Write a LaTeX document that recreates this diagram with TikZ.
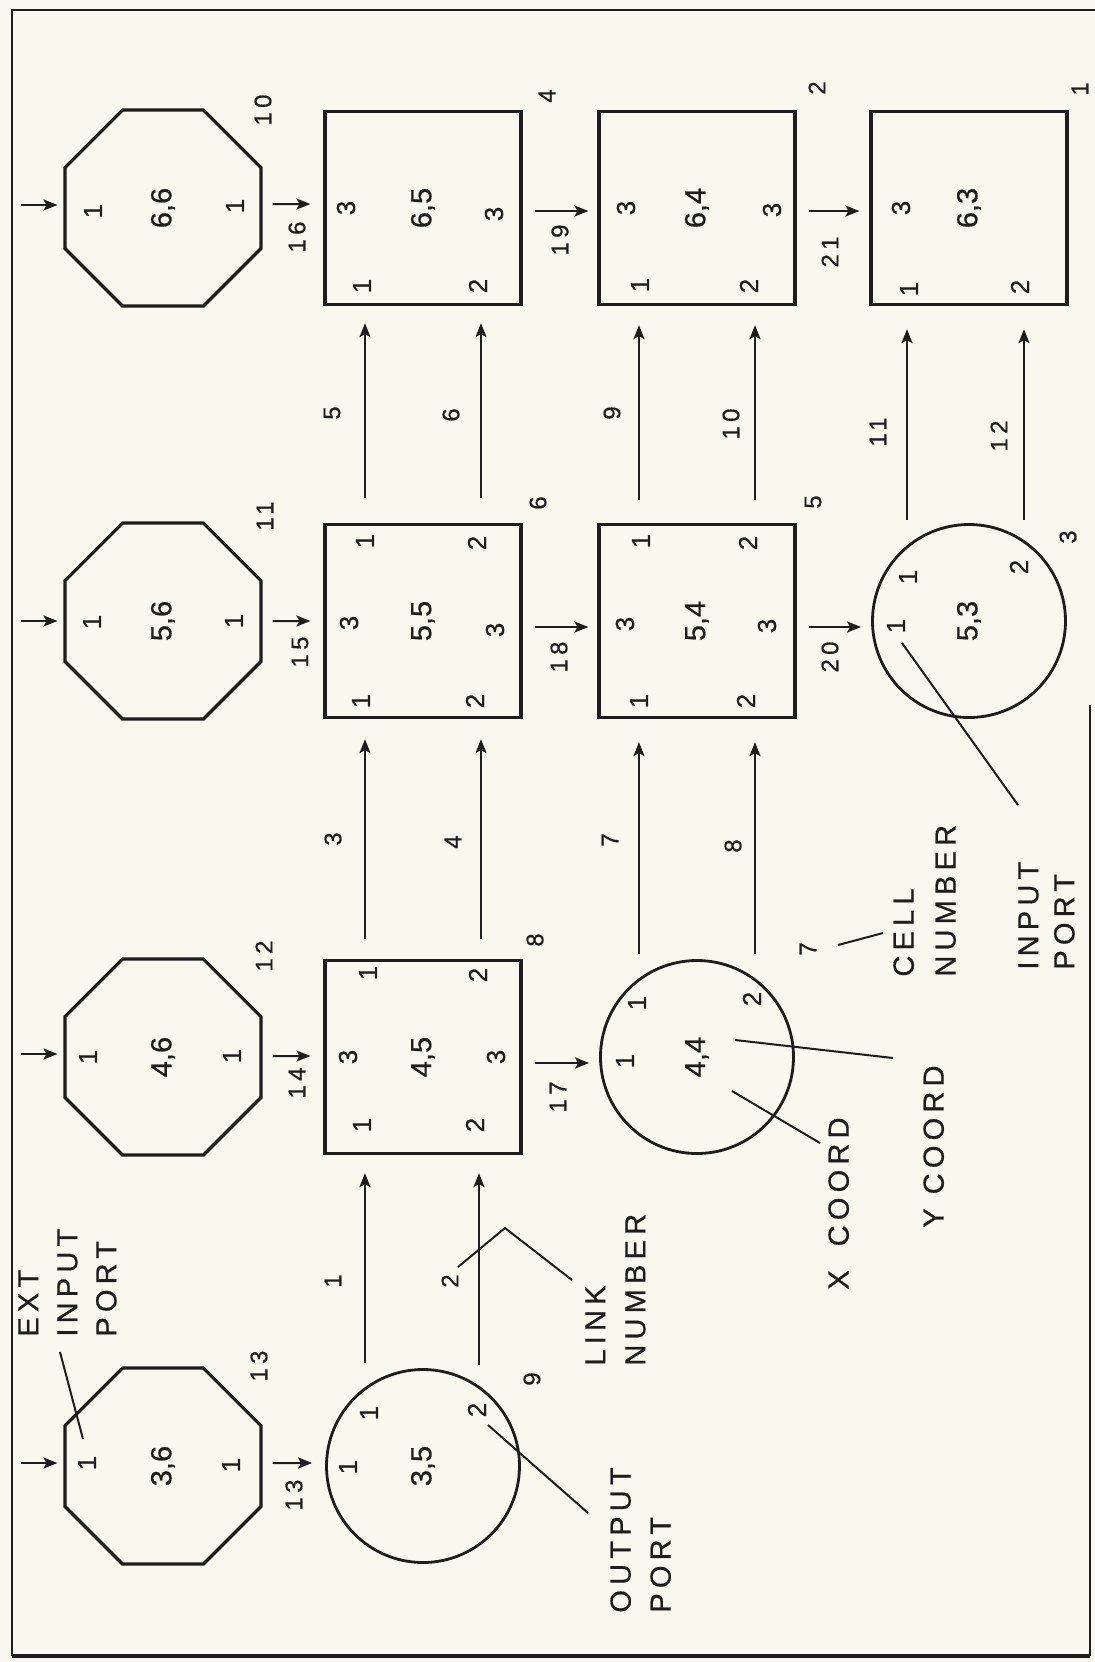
\documentclass[tikz,border=0pt]{standalone}
\usepackage{fontspec}
\setmainfont{Liberation Sans}[FakeBold=0.6]
\newfontfamily\lettering{Liberation Sans}[LetterSpace=18,FakeBold=0.6]
\usetikzlibrary{shapes.geometric,arrows.meta,calc}
\definecolor{paper}{RGB}{248,248,238}
\definecolor{ink}{RGB}{30,28,28}
\begin{document}
\begin{tikzpicture}[x=0.5pt,y=-0.5pt,
  sq/.style={draw=ink,line width=1.6pt,rectangle,minimum width=98pt,minimum height=96.5pt,inner sep=0pt,text=ink,font=\fontsize{14.5}{17}\selectfont},
  ci/.style={draw=ink,line width=1.4pt,circle,minimum size=96.5pt,inner sep=0pt,text=ink,font=\fontsize{14.5}{17}\selectfont},
  oc/.style={draw=ink,line width=1.6pt,regular polygon,regular polygon sides=8,minimum size=106pt,inner sep=0pt,text=ink,font=\fontsize{14.5}{17}\selectfont},
  port/.style={rotate=90,inner sep=0pt,text=ink,font=\fontsize{13}{15}\selectfont},
  num/.style={rotate=90,inner sep=0pt,text=ink,font=\lettering\fontsize{12}{14}\selectfont},
  note/.style={rotate=90,inner sep=0pt,text=ink,align=left,anchor=north west,font=\lettering\fontsize{14.5}{19.5}\selectfont},
  arr/.style={draw=ink,line width=1pt,-{Stealth[length=7pt,width=5.5pt,inset=1.5pt]}},
  lead/.style={draw=ink,line width=1pt},
  frame/.style={draw=ink,line width=1.2pt},
]
\fill[paper] (0,0) rectangle (1095,1662);
\useasboundingbox (0,0) rectangle (1095,1662);
\coordinate (fTL) at (12,10);
\coordinate (fTR) at (1095,10);
\coordinate (fBL) at (12,1656);
\coordinate (fBR) at (1090,1656);
\coordinate (fRM) at (1090,705);
\draw[frame] (fTR) -- (fTL) -- (fBL);
\draw[frame,line width=1.6pt] (fBL) -- (fBR);
\draw[frame,line width=1pt] (fRM) -- (fBR);

% cells
\node[oc] (o66) at (163,208) {\rotatebox{90}{6,6}};
\node[sq] (s65) at (423,208) {\rotatebox{90}{6,5}};
\node[sq] (s64) at (697,208) {\rotatebox{90}{6,4}};
\node[sq] (s63) at (969,208) {\rotatebox{90}{6,3}};
\node[oc] (o56) at (163,621) {\rotatebox{90}{5,6}};
\node[sq] (s55) at (423,621) {\rotatebox{90}{5,5}};
\node[sq] (s54) at (697,621) {\rotatebox{90}{5,4}};
\node[ci] (c53) at (969,621) {\rotatebox{90}{5,3}};
\node[oc] (o46) at (163,1057) {\rotatebox{90}{4,6}};
\node[sq] (s45) at (423,1057) {\rotatebox{90}{4,5}};
\node[ci] (c44) at (697,1057) {\rotatebox{90}{4,4}};
\node[oc] (o36) at (163,1466) {\rotatebox{90}{3,6}};
\node[ci] (c35) at (423,1466) {\rotatebox{90}{3,5}};

% port labels: octagons
\node[port] (o66a) at ($(o66)+(-70,3)$) {1};
\node[port] (o66b) at ($(o66)+(72,-2)$) {1};
\node[port] (o56a) at ($(o56)+(-71,1)$) {1};
\node[port] (o56b) at ($(o56)+(71,0)$) {1};
\node[port] (o46a) at ($(o46)+(-75,0)$) {1};
\node[port] (o46b) at ($(o46)+(69,-1)$) {1};
\node[port] (o36a) at ($(o36)+(-76,-3)$) {1};
\node[port] (o36b) at ($(o36)+(68,-1)$) {1};
% port labels: squares
\node[port] (s65l) at ($(s65)+(-77,0)$) {3};
\node[port] (s65r) at ($(s65)+(71,6)$) {3};
\node[port] (s65c) at ($(s65)+(-61,78)$) {1};
\node[port] (s65d) at ($(s65)+(55,78)$) {2};
\node[port] (s64l) at ($(s64)+(-71,0)$) {3};
\node[port] (s64r) at ($(s64)+(75,2)$) {3};
\node[port] (s64c) at ($(s64)+(-57,77)$) {1};
\node[port] (s64d) at ($(s64)+(52,78)$) {2};
\node[port] (s63l) at ($(s63)+(-68,0)$) {3};
\node[port] (s63c) at ($(s63)+(-60,81)$) {1};
\node[port] (s63d) at ($(s63)+(51,79)$) {2};
\node[port] (s55l) at ($(s55)+(-74,2)$) {3};
\node[port] (s55r) at ($(s55)+(72,9)$) {3};
\node[port] (s55a) at ($(s55)+(-58,-80)$) {1};
\node[port] (s55b) at ($(s55)+(54,-78)$) {2};
\node[port] (s55c) at ($(s55)+(-62,80)$) {1};
\node[port] (s55d) at ($(s55)+(52,80)$) {2};
\node[port] (s54l) at ($(s54)+(-72,3)$) {3};
\node[port] (s54r) at ($(s54)+(70,5)$) {3};
\node[port] (s54a) at ($(s54)+(-56,-80)$) {1};
\node[port] (s54b) at ($(s54)+(51,-78)$) {2};
\node[port] (s54c) at ($(s54)+(-58,80)$) {1};
\node[port] (s54d) at ($(s54)+(49,80)$) {2};
\node[port] (s45l) at ($(s45)+(-75,0)$) {3};
\node[port] (s45r) at ($(s45)+(73,0)$) {3};
\node[port] (s45a) at ($(s45)+(-55,-84)$) {1};
\node[port] (s45b) at ($(s45)+(55,-82)$) {2};
\node[port] (s45c) at ($(s45)+(-61,68)$) {1};
\node[port] (s45d) at ($(s45)+(52,68)$) {2};
% port labels: circles
\node[port] (c53l) at ($(c53)+(-73,5)$) {1};
\node[port] (c53a) at ($(c53)+(-61,-44)$) {1};
\node[port] (c53b) at ($(c53)+(50,-54)$) {2};
\node[port] (c44l) at ($(c44)+(-72,4)$) {1};
\node[port] (c44a) at ($(c44)+(-60,-54)$) {1};
\node[port] (c44b) at ($(c44)+(55,-58)$) {2};
\node[port] (c35l) at ($(c35)+(-75,1)$) {1};
\node[port] (c35a) at ($(c35)+(-54,-53)$) {1};
\node[port] (c35b) at ($(c35)+(54,-56)$) {2};

% cell numbers
\node[num] (n10) at (263,110) {10};
\node[num] (n11) at (265,516) {11};
\node[num] (n12) at (264,956) {12};
\node[num] (n13) at (259,1366) {13};
\node[num] (n4) at (547,96) {4};
\node[num] (n6) at (538,503) {6};
\node[num] (n8) at (535,940) {8};
\node[num] (n2) at (817,88) {2};
\node[num] (n5) at (813,502) {5};
\node[num] (n1) at (1080,89) {1};
\node[num] (n3) at (1068,537) {3};
\node[num] (n7) at (808,949) {7};
\node[num] (n9) at (532,1379) {9};

% external input arrows
\draw[arr] ($(o66.west)+(-42,-3)$) -- ($(o66.west)+(-6,-3)$);
\draw[arr] ($(o56.west)+(-42,0)$) -- ($(o56.west)+(-6,0)$);
\draw[arr] ($(o46.west)+(-42,-3)$) -- ($(o46.west)+(-6,-3)$);
\draw[arr] ($(o36.west)+(-42,-3)$) -- ($(o36.west)+(-6,-3)$);
% horizontal links
\draw[arr] ($(o66.east)+(10,-4)$) -- ($(s65.west)+(-13,-4)$);
\draw[arr] ($(s65.east)+(12,3)$) -- ($(s64.west)+(-9,3)$);
\draw[arr] ($(s64.east)+(12,3)$) -- ($(s63.west)+(-10,3)$);
\draw[arr] ($(o56.east)+(10,0)$) -- ($(s55.west)+(-13,0)$);
\draw[arr] ($(s55.east)+(12,6)$) -- ($(s54.west)+(-9,6)$);
\draw[arr] ($(s54.east)+(12,6)$) -- ($(c53.west)+(-10,6)$);
\draw[arr] ($(o46.east)+(10,-1)$) -- ($(s45.west)+(-13,-1)$);
\draw[arr] ($(s45.east)+(12,6)$) -- ($(c44.west)+(-10,6)$);
\draw[arr] ($(o36.east)+(10,-3)$) -- ($(c35.west)+(-13,-3)$);
% vertical links
\draw[arr] ($(s55.north)+(-58,-25)$) -- ($(s65.south)+(-58,17)$);
\draw[arr] ($(s55.north)+(58,-25)$) -- ($(s65.south)+(58,17)$);
\draw[arr] ($(s45.north)+(-58,-20)$) -- ($(s55.south)+(-58,20)$);
\draw[arr] ($(s45.north)+(58,-20)$) -- ($(s55.south)+(58,20)$);
\draw[arr] ($(c35.north)+(-58,-5)$) -- ($(s45.south)+(-58,18)$);
\draw[arr] ($(c35.north)+(56,-3)$) -- ($(s45.south)+(56,18)$);
\draw[arr] ($(s54.north)+(-58,-23)$) -- ($(s64.south)+(-58,19)$);
\draw[arr] ($(s54.north)+(58,-23)$) -- ($(s64.south)+(58,19)$);
\draw[arr] ($(c44.north)+(-58,-5)$) -- ($(s54.south)+(-58,23)$);
\draw[arr] ($(c44.north)+(58,-5)$) -- ($(s54.south)+(58,23)$);
\draw[arr] ($(c53.north)+(-62,-3)$) -- ($(s63.south)+(-62,23)$);
\draw[arr] ($(c53.north)+(55,-3)$) -- ($(s63.south)+(55,23)$);

% link numbers
\node[num] (l16) at (297,237) {16};
\node[num] (l15) at (300,652) {15};
\node[num] (l14) at (297,1083) {14};
\node[num] (l13) at (294,1495) {13};
\node[num] (l19) at (560,240) {19};
\node[num] (l18) at (559,657) {18};
\node[num] (l17) at (558,1097) {17};
\node[num] (l21) at (830,252) {21};
\node[num] (l20) at (830,657) {20};
\node[num] (l5) at (332,413) {5};
\node[num] (l6) at (451,415) {6};
\node[num] (l3) at (333,839) {3};
\node[num] (l4) at (453,842) {4};
\node[num] (l1) at (333,1281) {1};
\node[num] (l2) at (450,1281) {2};
\node[num] (l9) at (612,413) {9};
\node[num] (l10) at (731,424) {10};
\node[num] (l7) at (610,840) {7};
\node[num] (l8) at (733,846) {8};
\node[num] (l11) at (878,432) {11};
\node[num] (l12) at (999,436) {12};

% annotations
\node[note] (extnote) at (18,1337) {EXT\\INPUT\\PORT};
\node[note,font=\lettering\fontsize{14.5}{21}\selectfont] (cellnote) at (893,977) {CELL\\NUMBER};
\node[note,font=\lettering\fontsize{14.5}{18}\selectfont] (innote) at (1018,970) {INPUT\\PORT};
\node[note] (xnote) at (828,1290) {X\hspace{12pt}COORD};
\node[note] (ynote) at (923,1228) {Y\hspace{7pt}COORD};
\node[note,font=\lettering\fontsize{14.5}{20}\selectfont] (lnknote) at (585,1366) {LINK\\NUMBER};
\node[note,font=\lettering\fontsize{14.5}{20}\selectfont] (outnote) at (610,1613) {OUTPUT\\PORT};

% leaders
\coordinate (extA) at (60,1352);  \coordinate (extB) at (83,1439);
\coordinate (outA) at (488,1425); \coordinate (outB) at (588,1513);
\coordinate (lnkA) at (458,1267); \coordinate (lnkM) at (505,1228); \coordinate (lnkB) at (572,1280);
\coordinate (xA) at (732,1091);   \coordinate (xB) at (820,1143);
\coordinate (yA) at (735,1040);   \coordinate (yB) at (893,1058);
\coordinate (cellA) at (838,945); \coordinate (cellB) at (883,933);
\coordinate (inA) at (902,643);   \coordinate (inB) at (1018,805);
\draw[lead] (extA) -- (extB);
\draw[lead] (outA) -- (outB);
\draw[lead] (lnkA) -- (lnkM) -- (lnkB);
\draw[lead] (xA) -- (xB);
\draw[lead] (yA) -- (yB);
\draw[lead] (cellA) -- (cellB);
\draw[lead] (inA) -- (inB);
\end{tikzpicture}
\end{document}
